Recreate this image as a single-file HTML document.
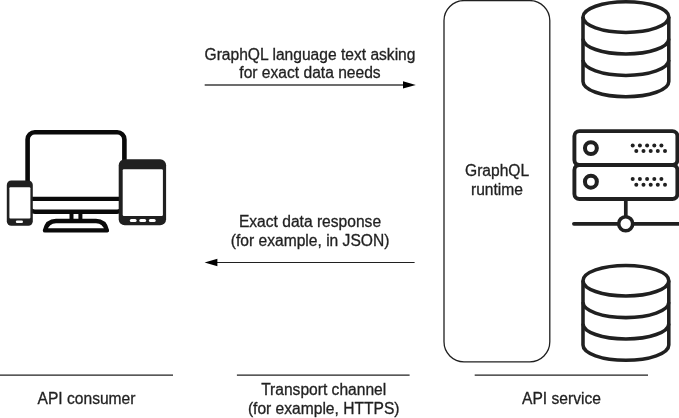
<!DOCTYPE html>
<html>
<head>
<meta charset="utf-8">
<title>GraphQL diagram</title>
<style>
html,body{margin:0;padding:0;background:#fff;}
body{width:679px;height:418px;overflow:hidden;}
svg{display:block;filter:grayscale(1);}
text{font-family:"Liberation Sans",Arial,sans-serif;font-size:15.6px;fill:#231f20;text-anchor:middle;stroke:#231f20;stroke-width:0.3px;}
</style>
</head>
<body>
<svg width="679" height="418" viewBox="0 0 679 418">
<rect width="679" height="418" fill="#fff"/>

<!-- top arrow -->
<text x="310.0" y="59.5">GraphQL language text asking</text>
<text x="310" y="78.4">for exact data needs</text>
<line x1="204.7" y1="84.9" x2="406" y2="84.9" stroke="#3c3c3c" stroke-width="1.5"/>
<path d="M415.8 84.9 L403 81.2 L403 88.6 Z" fill="#000"/>

<!-- bottom arrow -->
<text x="310.0" y="227.4">Exact data response</text>
<text x="310.1" y="246">(for example, in JSON)</text>
<line x1="214" y1="262.5" x2="414.6" y2="262.5" stroke="#231f20" stroke-width="1.2"/>
<path d="M204.6 262.5 L217.4 258.8 L217.4 266.2 Z" fill="#000"/>

<!-- runtime box -->
<rect x="444" y="0.6" width="105.8" height="361.2" rx="20" ry="20" fill="#fff" stroke="#231f20" stroke-width="1.3"/>
<text x="497.1" y="175.9">GraphQL</text>
<text x="497.0" y="194.6">runtime</text>

<!-- bottom labels -->
<line x1="0" y1="375.15" x2="173" y2="375.15" stroke="#231f20" stroke-width="1.35"/>
<text x="86.5" y="404.3">API consumer</text>
<line x1="236.9" y1="375.15" x2="409.6" y2="375.15" stroke="#231f20" stroke-width="1.35"/>
<text x="323.7" y="394.7">Transport channel</text>
<text x="323.7" y="413.8">(for example, HTTPS)</text>
<line x1="474.7" y1="375.15" x2="648" y2="375.15" stroke="#231f20" stroke-width="1.35"/>
<text x="561.5" y="404.0">API service</text>

<!-- database top -->
<g fill="none" stroke="#231f20" stroke-width="3.55">
<ellipse cx="625.9" cy="17.1" rx="42.9" ry="15.3"/>
<path d="M583 17.1 V81.4 A42.9 15.3 0 0 0 668.8 81.4 V17.1"/>
<path d="M583 38.7 A42.9 15.3 0 0 0 668.8 38.7"/>
<path d="M583 60.1 A42.9 15.3 0 0 0 668.8 60.1"/>
</g>

<!-- database bottom -->
<g fill="none" stroke="#231f20" stroke-width="3.55" transform="translate(0,263.6)">
<ellipse cx="625.9" cy="17.1" rx="42.9" ry="15.3"/>
<path d="M583 17.1 V81.4 A42.9 15.3 0 0 0 668.8 81.4 V17.1"/>
<path d="M583 38.7 A42.9 15.3 0 0 0 668.8 38.7"/>
<path d="M583 60.1 A42.9 15.3 0 0 0 668.8 60.1"/>
</g>

<!-- server -->
<g fill="none" stroke="#231f20" stroke-width="3.9">
<rect x="574.4" y="131.1" width="103" height="33.9" rx="5" ry="5"/>
<rect x="574.4" y="165" width="103" height="34" rx="5" ry="5"/>
<circle cx="590.9" cy="148.1" r="5.95" stroke-width="4.05"/>
<circle cx="590.9" cy="181.7" r="5.95" stroke-width="4.05"/>
<line x1="625.8" y1="199" x2="625.8" y2="217" stroke-width="3.7"/>
<line x1="573.9" y1="223.8" x2="682" y2="223.8" stroke-width="3.7" stroke-linecap="round"/>
<circle cx="625.7" cy="223.8" r="7" fill="#fff" stroke-width="3.6"/>
</g>
<g fill="#231f20">
<circle cx="632.7" cy="145.50" r="2"/><circle cx="639.9" cy="145.50" r="2"/><circle cx="647.1" cy="145.50" r="2"/><circle cx="654.3" cy="145.50" r="2"/><circle cx="661.4" cy="145.50" r="2"/>
<circle cx="636.3" cy="150.95" r="2"/><circle cx="643.5" cy="150.95" r="2"/><circle cx="650.7" cy="150.95" r="2"/><circle cx="657.8" cy="150.95" r="2"/><circle cx="665.0" cy="150.95" r="2"/>
<circle cx="632.7" cy="179.10" r="2"/><circle cx="639.9" cy="179.10" r="2"/><circle cx="647.1" cy="179.10" r="2"/><circle cx="654.3" cy="179.10" r="2"/><circle cx="661.4" cy="179.10" r="2"/>
<circle cx="636.3" cy="184.70" r="2"/><circle cx="643.5" cy="184.70" r="2"/><circle cx="650.7" cy="184.70" r="2"/><circle cx="657.8" cy="184.70" r="2"/><circle cx="665.0" cy="184.70" r="2"/>
</g>

<!-- devices -->
<g id="devices">
<!-- monitor -->
<rect x="27.6" y="132.3" width="96.8" height="79.45" rx="7.2" ry="7.2" fill="#fff" stroke="#0a0a0a" stroke-width="4.6"/>
<line x1="27" y1="198.8" x2="125" y2="198.8" stroke="#0a0a0a" stroke-width="4.2"/>
<line x1="71.5" y1="213" x2="71.5" y2="220" stroke="#0a0a0a" stroke-width="4"/>
<line x1="80.4" y1="213" x2="80.4" y2="220" stroke="#0a0a0a" stroke-width="4"/>
<path d="M56 221 H96 C102 221 105.6 225 106.9 230.4 H45 C46.3 225 50 221 56 221 Z" fill="#fff" stroke="#0a0a0a" stroke-width="4.4" stroke-linejoin="round"/>
<!-- phone -->
<rect x="6.8" y="180.5" width="26" height="45.2" rx="4.5" ry="4.5" fill="#231f20"/>
<rect x="9.4" y="187.3" width="21" height="31.2" rx="1" fill="#fff"/>
<rect x="15.8" y="220.6" width="7.2" height="2.5" rx="1.25" fill="#fff"/>
<!-- tablet -->
<rect x="118.7" y="159.2" width="47.4" height="66" rx="6" ry="6" fill="#231f20"/>
<rect x="122.7" y="169.2" width="40.2" height="46.8" rx="1.2" fill="#fff"/>
<rect x="129.8" y="218.9" width="6.8" height="3" rx="1.5" fill="#fff"/>
<rect x="139.3" y="218.9" width="6.8" height="3" rx="1.5" fill="#fff"/>
<rect x="148.9" y="218.9" width="6.8" height="3" rx="1.5" fill="#fff"/>
</g>
</svg>
</body>
</html>
